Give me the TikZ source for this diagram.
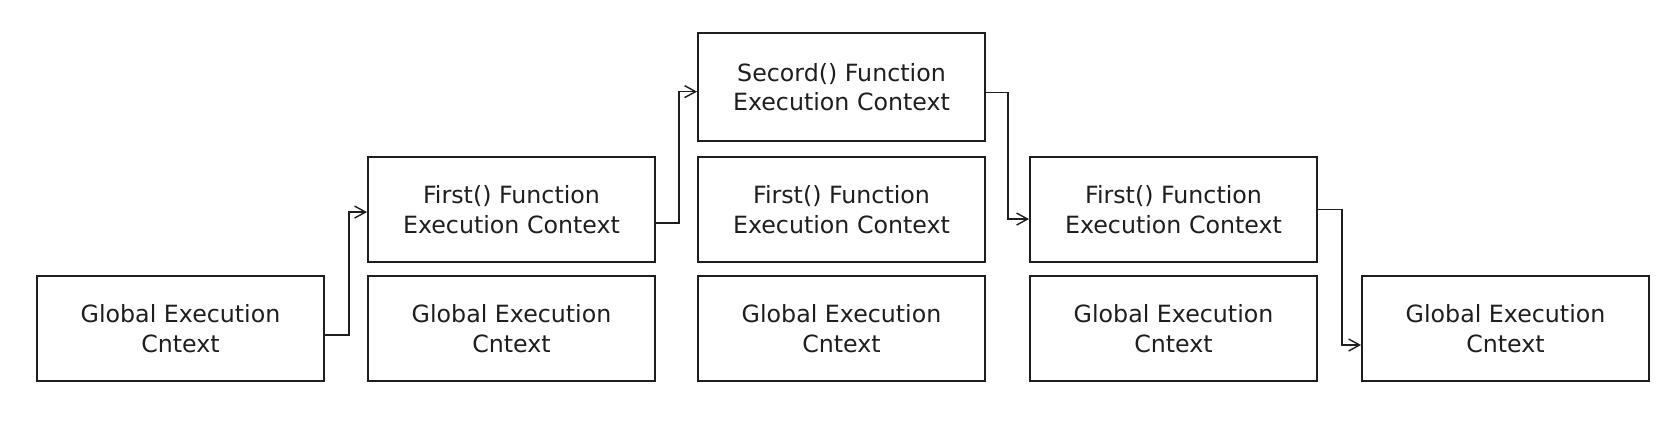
\documentclass[tikz,border=0pt]{standalone}
\usepackage{fontspec}
\setmainfont{DejaVu Sans}
\usepackage{tikz}
\usetikzlibrary{arrows.meta,positioning}
\definecolor{ink}{HTML}{1E1E1E}

\begin{document}
\begin{tikzpicture}[
        ctx/.style={rectangle, draw=ink, line width=1.1pt, minimum width=5.74cm, minimum height=2.1cm, align=center, inner sep=0pt, text=ink, font=\fontsize{13.5}{17}\selectfont},
        conn/.style={draw=ink, line width=0.8pt, -{Straight Barb[length=0.22cm, width=0.24cm]}}
    ]
        \useasboundingbox (0,0) rectangle (33.58,-8.6);

        % Global contexts
        \node[ctx] (g1) at (3.61,-6.57) {Global Execution\\Cntext};
        \node[ctx] (g2) at (10.23,-6.57) {Global Execution\\Cntext};
        \node[ctx] (g3) at (16.83,-6.57) {Global Execution\\Cntext};
        \node[ctx] (g4) at (23.47,-6.57) {Global Execution\\Cntext};
        \node[ctx] (g5) at (30.11,-6.57) {Global Execution\\Cntext};

        % First() contexts
        \node[ctx, above=0.24cm of g2] (f1) {First() Function\\Execution Context};
        \node[ctx, above=0.24cm of g3] (f2) {First() Function\\Execution Context};
        \node[ctx, above=0.24cm of g4] (f3) {First() Function\\Execution Context};

        % Secord() context
        \node[ctx, minimum height=2.16cm, above=0.28cm of f2] (s1) {Secord() Function\\Execution Context};

        % Connections
        \draw[conn] ([yshift=-0.13cm]g1.east) -- ++(0.48,0) |- ([yshift=-0.05cm]f1.west);
        \draw[conn] ([yshift=-0.27cm]f1.east) -- ++(0.46,0) |- ([yshift=-0.09cm]s1.west);
        \draw[conn] ([yshift=-0.11cm]s1.east) -- ++(0.44,0) |- ([yshift=-0.19cm]f3.west);
        \draw[conn] (f3.east) -- ++(0.48,0) |- ([yshift=-0.33cm]g5.west);
    \end{tikzpicture}
\end{document}
